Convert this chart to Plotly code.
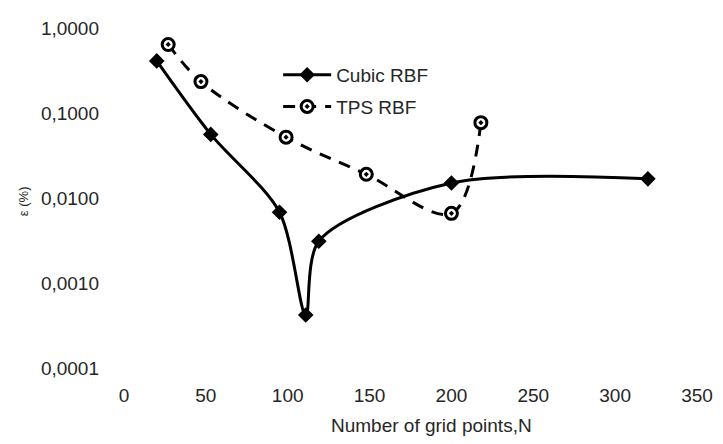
import plotly.graph_objects as go

# Data
cubic_n = [20, 53, 95, 111, 119, 200, 320]
cubic_err = [0.41, 0.056, 0.0068, 0.00042, 0.0031, 0.015, 0.0168]

tps_n = [27, 47, 99, 148, 200, 218]
tps_err = [0.64, 0.234, 0.052, 0.019, 0.0066, 0.077]

y_tickvals = [1, 0.1, 0.01, 0.001, 0.0001]
y_ticktext = ["1,0000", "0,1000", "0,0100", "0,0010", "0,0001"]
x_tickvals = [0, 50, 100, 150, 200, 250, 300, 350]

FONT = "Arial, Liberation Sans, sans-serif"
TXT = "#262626"

fig = go.Figure()
fig.add_trace(go.Scatter(
    x=cubic_n, y=cubic_err, name="Cubic RBF", mode="lines+markers",
    legendgroup="a",
    line=dict(color="black", width=3, shape="spline", smoothing=0.85),
    marker=dict(symbol="diamond", size=12, color="black"),
))
fig.add_trace(go.Scatter(
    x=tps_n, y=tps_err, name="TPS RBF", mode="lines+markers",
    legendgroup="b",
    line=dict(color="black", width=3, dash="12px,9px", shape="spline", smoothing=1.0),
    marker=dict(symbol="circle-dot", size=12, color="white",
                line=dict(color="black", width=3)),
))

# the page body keeps its default 8px margin, so the figure is 8px smaller
fig.update_layout(
    width=715, height=436,
    margin=dict(l=116, r=21, t=10, b=76),
    paper_bgcolor="white", plot_bgcolor="white",
    font=dict(family=FONT, size=19, color=TXT),
    legend=dict(x=0.269, y=0.918, xanchor="left", yanchor="top",
                bgcolor="rgba(0,0,0,0)", font=dict(size=19),
                itemwidth=48,
                traceorder="grouped", tracegroupgap=4),
    xaxis=dict(range=[0, 350], tickvals=x_tickvals, showgrid=False,
               zeroline=False, showline=False, ticks="",
               ticklabelstandoff=14, ticklabeloverflow="allow"),
    yaxis=dict(type="log", range=[-4, 0], tickvals=y_tickvals, ticktext=y_ticktext,
               showgrid=False, zeroline=False, showline=False, ticks="",
               ticklabelstandoff=24, ticklabeloverflow="allow"),
    annotations=[
        dict(text="Number of grid points,N", xref="paper", yref="paper",
             x=0.536, y=-0.169, xanchor="center", yanchor="middle",
             showarrow=False, font=dict(size=19, color=TXT)),
        dict(text="ε (%)", xref="paper", yref="paper", textangle=-90,
             x=-0.175, y=0.49, xanchor="center", yanchor="middle",
             showarrow=False, font=dict(size=13, color=TXT)),
    ],
)

fig.write_html("out.html")
